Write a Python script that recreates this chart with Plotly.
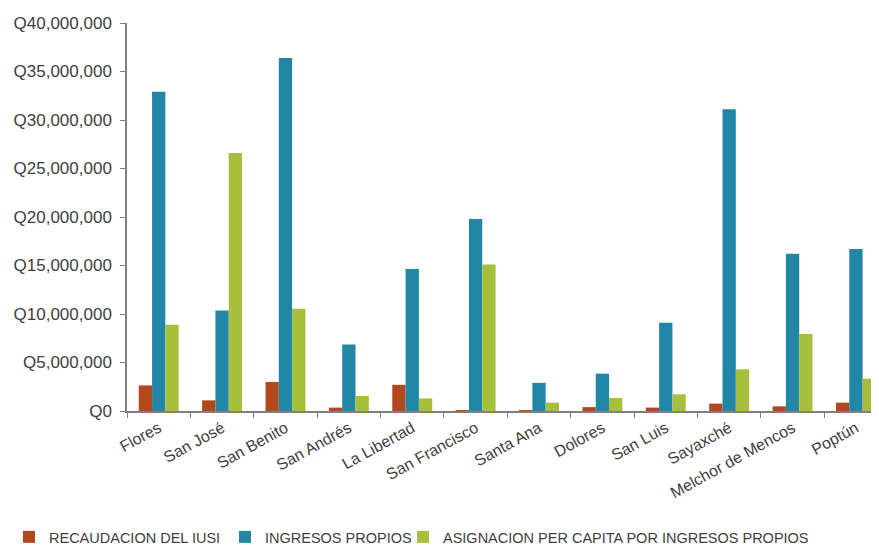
import plotly.graph_objects as go

municipios = ['Flores', 'San José', 'San Benito', 'San Andrés', 'La Libertad',
              'San Francisco', 'Santa Ana', 'Dolores', 'San Luis', 'Sayaxché',
              'Melchor de Mencos', 'Poptún']

# valores en quetzales
recaudacion_iusi = [2640000, 1100000, 3000000, 350000, 2700000, 100000,
                    100000, 400000, 350000, 760000, 480000, 860000]
ingresos_propios = [32900000, 10350000, 36400000, 6850000, 14650000, 19800000,
                    2900000, 3850000, 9100000, 31100000, 16200000, 16700000]
asignacion_per_capita = [8900000, 26600000, 10550000, 1550000, 1300000, 15100000,
                         860000, 1350000, 1720000, 4300000, 7950000, 3330000]

series = [
    ('RECAUDACION DEL IUSI', recaudacion_iusi, '#b3481d', 'legend'),
    ('INGRESOS PROPIOS', ingresos_propios, '#2286a7', 'legend2'),
    ('ASIGNACION PER CAPITA POR INGRESOS PROPIOS', asignacion_per_capita, '#a8bf3d', 'legend3'),
]

font = 'Liberation Sans, Arial, sans-serif'
W, H = 879, 547

fig = go.Figure()
for name, vals, color, leg in series:
    fig.add_trace(go.Bar(x=municipios, y=vals, name=name, legend=leg,
                         showlegend=True,
                         marker=dict(color=color, line=dict(width=0))))

# one legend per series so the row sits where the original has it
def legend_at(px):
    return dict(orientation='h', xref='container', yref='container',
                x=px / W, xanchor='left', y=0.033, yanchor='middle',
                font=dict(size=14.5, color='#404040'), itemwidth=30,
                bgcolor='rgba(0,0,0,0)', visible=True)

fig.update_layout(
    width=W, height=H, showlegend=True,
    margin=dict(l=119, r=0, t=15, b=144, autoexpand=False),
    paper_bgcolor='white', plot_bgcolor='white',
    barmode='group', bargap=0.37, bargroupgap=0,
    font=dict(family=font, size=14, color='#404040'),
    legend=legend_at(1), legend2=legend_at(217), legend3=legend_at(395),
)
fig.update_xaxes(
    type='category', range=[-0.5, 11.49], automargin=False,
    showline=True, linecolor='#808080', linewidth=1.5,
    ticks='outside', tickson='boundaries', ticklen=5, tickcolor='#808080',
    tickangle=-29, showgrid=False,
    tickfont=dict(size=16, color='#404040'),
)
fig.update_yaxes(
    range=[0, 40000000], dtick=5000000, automargin=False,
    tickprefix='Q', tickformat=',d',
    showline=True, linecolor='#808080', linewidth=1.5,
    ticks='outside', ticklen=5, tickcolor='#808080', ticklabelstandoff=5,
    showgrid=False, zeroline=False,
    tickfont=dict(size=17, color='#404040'),
)

fig.write_html('out.html')
